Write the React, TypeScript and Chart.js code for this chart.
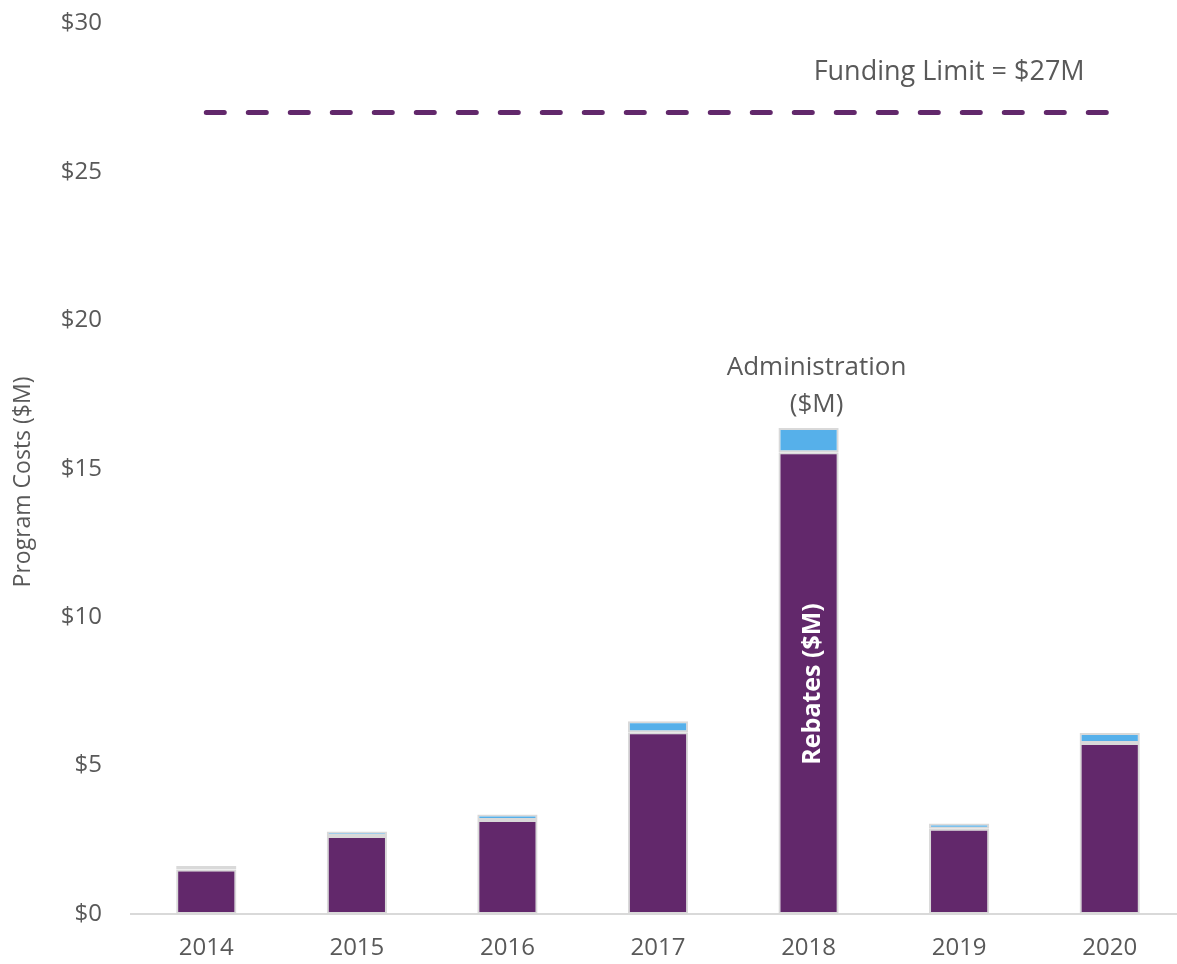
import React, { useEffect, useRef } from "react";
import { Chart, registerables } from "chart.js";

Chart.register(...registerables);

const years = ["2014", "2015", "2016", "2017", "2018", "2019", "2020"];
const rebates = [1.5, 2.63, 3.17, 6.12, 15.55, 2.87, 5.76];
const administration = [0.12, 0.15, 0.18, 0.37, 0.82, 0.18, 0.34];
const fundingLimit = [27, 27, 27, 27, 27, 27, 27];
const yTicks = [0, 5, 10, 15, 20, 25, 30];

const PURPLE = "#62286B";
const BLUE = "#56B0EA";
const GREY_TEXT = "#595959";
const FONT = "'Open Sans', 'Noto Sans', sans-serif";
const SHIFT = 20;

const annotationPlugin = {
  id: "annotations",
  afterDraw(chart: any) {
    const { ctx } = chart;
    const x = chart.scales.x;
    const y = chart.scales.y;
    ctx.save();
    ctx.fillStyle = GREY_TEXT;
    ctx.textAlign = "center";
    ctx.textBaseline = "middle";
    ctx.font = `27px ${FONT}`;
    // Funding limit label
    ctx.fillText("Funding Limit = $27M", x.getPixelForValue(5) - 10, y.getPixelForValue(28.35));
    // Administration label above 2018 bar
    ctx.font = `26px ${FONT}`;
    const adminTop = y.getPixelForValue(rebates[4] + administration[4]);
    ctx.fillText("Administration", x.getPixelForValue(4) + 8, adminTop - 60);
    ctx.fillText("($M)", x.getPixelForValue(4) + 8, adminTop - 23);
    // Rebates label inside 2018 bar
    ctx.save();
    ctx.translate(x.getPixelForValue(4) + 4, y.getPixelForValue(7.75));
    ctx.rotate(-Math.PI / 2);
    ctx.fillStyle = "#FFFFFF";
    ctx.font = `bold 25px ${FONT}`;
    ctx.fillText("Rebates ($M)", 0, 0);
    ctx.restore();
    // Y axis title
    ctx.save();
    ctx.translate(23, 482 + SHIFT);
    ctx.rotate(-Math.PI / 2);
    ctx.fillStyle = GREY_TEXT;
    ctx.font = `23px ${FONT}`;
    ctx.fillText("Program Costs ($M)", 0, 0);
    ctx.restore();
    ctx.restore();
  },
};

export default function App() {
  const canvasRef = useRef<HTMLCanvasElement | null>(null);

  useEffect(() => {
    document.body.style.margin = "0";
    const canvas = canvasRef.current;
    if (!canvas) return;
    const chart = new Chart(canvas, {
      type: "bar",
      data: {
        labels: years,
        datasets: [
          {
            type: "line" as any,
            label: "Funding Limit",
            data: fundingLimit,
            borderColor: PURPLE,
            borderWidth: 5,
            borderDash: [18, 24],
            borderCapStyle: "round",
            pointRadius: 0,
            fill: false,
            stack: "limit",
            order: 0,
          } as any,
          {
            label: "Rebates ($M)",
            data: rebates,
            backgroundColor: PURPLE,
            borderColor: "#D9D9D9",
            borderWidth: 2,
            borderSkipped: false,
            stack: "costs",
            order: 1,
          },
          {
            label: "Administration ($M)",
            data: administration,
            backgroundColor: BLUE,
            borderColor: "#D9D9D9",
            borderWidth: 2,
            borderSkipped: false,
            stack: "costs",
            order: 1,
          },
        ],
      },
      options: {
        responsive: false,
        animation: false,
        layout: { padding: { top: 4, right: 5, left: 0, bottom: 0 } },
        datasets: {
          bar: { categoryPercentage: 1, barPercentage: 0.4 },
        },
        plugins: {
          legend: { display: false },
          tooltip: { enabled: false },
        },
        scales: {
          x: {
            stacked: true,
            grid: { display: false, drawTicks: false },
            border: { display: true, color: "#D9D9D9", width: 2 },
            ticks: {
              color: GREY_TEXT,
              font: { family: FONT, size: 24 },
              padding: 20,
            },
            afterFit: (s: any) => {
              s.height = 50;
            },
          },
          y: {
            stacked: true,
            min: 0,
            max: 30,
            grid: { display: false, drawTicks: false },
            border: { display: false },
            afterBuildTicks: (s: any) => {
              s.ticks = yTicks.map((v) => ({ value: v }));
            },
            ticks: {
              color: GREY_TEXT,
              font: { family: FONT, size: 24 },
              padding: 29,
              callback: (v: any) => "$" + v,
            },
            afterFit: (s: any) => {
              s.width = 131;
            },
          },
        },
      },
      plugins: [annotationPlugin],
    });
    return () => chart.destroy();
  }, []);

  return (
    <div style={{ width: 1177, height: 964, overflow: "hidden", position: "relative" }}>
      <canvas
        ref={canvasRef}
        width={1190}
        height={964 + SHIFT}
        style={{ display: "block", marginTop: -SHIFT }}
      />
    </div>
  );
}
